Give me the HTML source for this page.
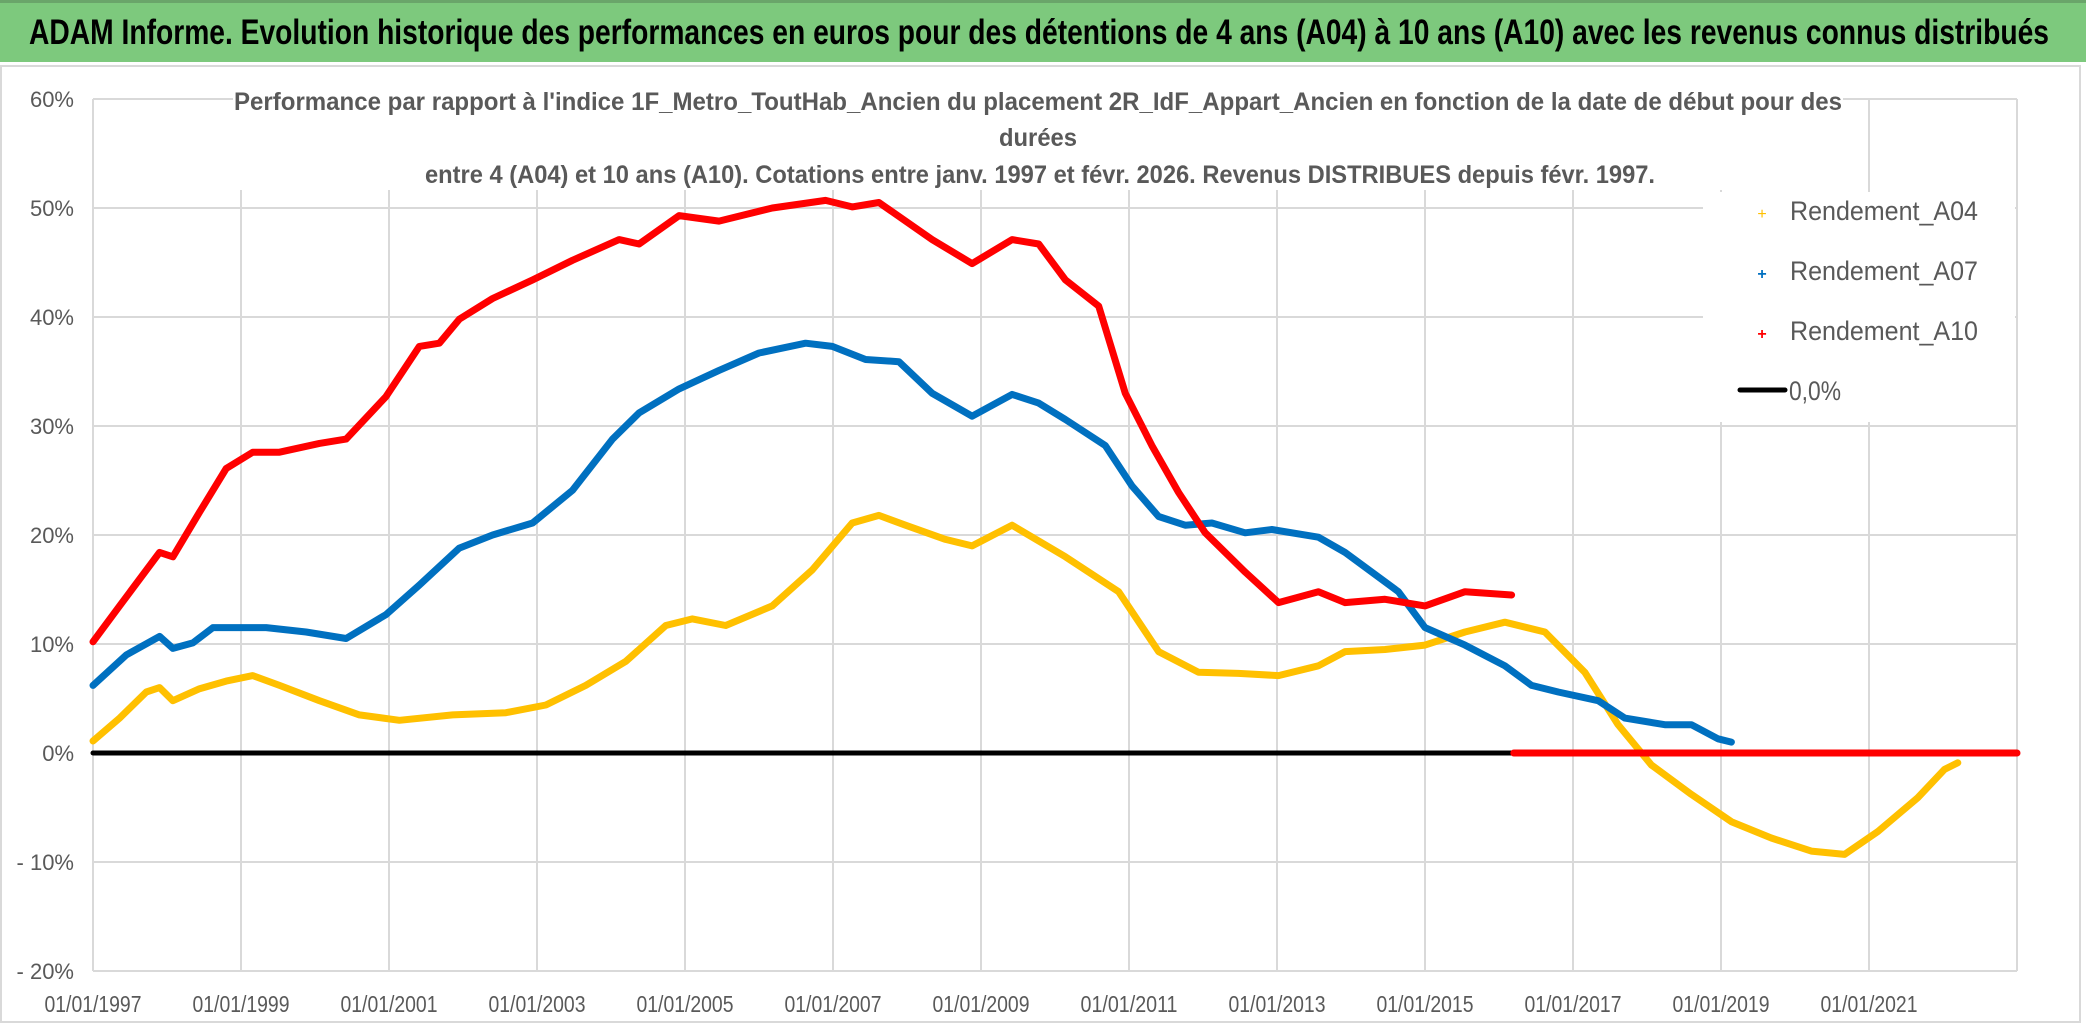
<!DOCTYPE html>
<html><head><meta charset="utf-8"><style>
html,body{margin:0;padding:0;background:#fff;}
svg{display:block;font-family:"Liberation Sans",sans-serif;}
</style></head><body>
<svg id="chart" width="2086" height="1031" viewBox="0 0 2086 1031" xmlns="http://www.w3.org/2000/svg">
<rect x="0" y="0" width="2086" height="1031" fill="#fff"/>
<rect x="0" y="0" width="2086" height="62" fill="#7dc97d"/>
<rect x="0" y="0" width="2086" height="3" fill="#6aa56a"/>
<text x="29" y="44" font-size="35" font-weight="bold" fill="#000" textLength="2020" lengthAdjust="spacingAndGlyphs">ADAM Informe. Evolution historique des performances en euros pour des détentions de 4 ans (A04) à 10 ans (A10) avec les revenus connus distribués</text>
<rect x="1" y="66" width="2079" height="956" fill="none" stroke="#d9d9d9" stroke-width="2"/>
<g id="grid"></g>
<g id="series"></g>
<rect x="233" y="80" width="1610" height="110" fill="#fff"/>
<g fill="#595959" font-weight="bold" font-size="25" text-anchor="middle">
<text x="1038" y="110" textLength="1608" lengthAdjust="spacingAndGlyphs">Performance par rapport à l'indice 1F_Metro_ToutHab_Ancien  du placement 2R_IdF_Appart_Ancien en fonction de la date de début pour des</text>
<text x="1038" y="146" textLength="78" lengthAdjust="spacingAndGlyphs">durées</text>
<text x="1040" y="183" textLength="1230" lengthAdjust="spacingAndGlyphs">entre 4 (A04) et 10 ans (A10). Cotations entre janv. 1997 et févr. 2026. Revenus DISTRIBUES depuis févr. 1997.</text>
</g>
<rect x="1703" y="192" width="312" height="230" fill="#fff"/>
<g font-size="27" fill="#595959">
<g><text x="1762" y="219" font-size="16" fill="#ffc000" text-anchor="middle">+</text><text x="1790" y="220" textLength="188" lengthAdjust="spacingAndGlyphs">Rendement_A04</text></g>
<g><text x="1762" y="279" font-size="16" fill="#0070c0" text-anchor="middle" font-weight="bold">+</text><text x="1790" y="280" textLength="188" lengthAdjust="spacingAndGlyphs">Rendement_A07</text></g>
<g><text x="1762" y="339" font-size="16" fill="#ff0000" text-anchor="middle" font-weight="bold">+</text><text x="1790" y="340" textLength="188" lengthAdjust="spacingAndGlyphs">Rendement_A10</text></g>
<g><line x1="1740" y1="390" x2="1785" y2="390" stroke="#000" stroke-width="5" stroke-linecap="round"/><text x="1789" y="400" textLength="52" lengthAdjust="spacingAndGlyphs">0,0%</text></g>
</g>
</svg>
<script>
const yTicks = [60, 50, 40, 30, 20, 10, 0, -10, -20];
const yTickLabels = ["60%", "50%", "40%", "30%", "20%", "10%", "0%", "- 10%", "- 20%"];
const xTickYears = [1997, 1999, 2001, 2003, 2005, 2007, 2009, 2011, 2013, 2015, 2017, 2019, 2021];
const xTickLabels = ["01/01/1997","01/01/1999","01/01/2001","01/01/2003","01/01/2005","01/01/2007","01/01/2009","01/01/2011","01/01/2013","01/01/2015","01/01/2017","01/01/2019","01/01/2021"];
const a10Years = [1997.0,1997.36,1997.9,1998.08,1998.44,1998.8,1999.16,1999.52,2000.06,2000.42,2000.96,2001.41,2001.68,2001.95,2002.4,2002.94,2003.48,2004.11,2004.38,2004.92,2005.46,2006.18,2006.9,2007.26,2007.62,2008.34,2008.88,2009.42,2009.78,2010.14,2010.59,2010.95,2011.31,2011.67,2012.03,2012.57,2013.02,2013.56,2013.92,2014.46,2015.0,2015.54,2016.17];
const a10Values = [10.2,13.5,18.4,18.0,22.1,26.1,27.6,27.6,28.4,28.8,32.7,37.3,37.6,39.8,41.7,43.4,45.2,47.1,46.7,49.3,48.8,50.0,50.7,50.1,50.5,47.1,44.9,47.1,46.7,43.4,41.0,33.0,28.2,23.9,20.2,16.6,13.8,14.8,13.8,14.1,13.5,14.8,14.5];
const a10ZeroYears = [2016.2, 2023.0];
const a10ZeroValues = [0, 0];
const a07Years = [1997.0,1997.45,1997.9,1998.08,1998.35,1998.62,1999.34,1999.88,2000.42,2000.96,2001.41,2001.95,2002.4,2002.94,2003.48,2004.02,2004.38,2004.92,2005.46,2006.0,2006.63,2006.99,2007.44,2007.89,2008.34,2008.88,2009.42,2009.78,2010.14,2010.68,2011.04,2011.4,2011.76,2012.12,2012.57,2012.93,2013.56,2013.92,2014.64,2015.0,2015.54,2016.08,2016.44,2016.8,2017.34,2017.7,2018.24,2018.6,2018.96,2019.14];
const a07Values = [6.2,9.0,10.7,9.6,10.1,11.5,11.5,11.1,10.5,12.7,15.4,18.8,20.0,21.1,24.1,28.8,31.2,33.4,35.1,36.7,37.6,37.3,36.1,35.9,33.0,30.9,32.9,32.1,30.6,28.2,24.5,21.7,20.9,21.1,20.2,20.5,19.8,18.4,14.8,11.5,9.9,8.0,6.2,5.6,4.8,3.2,2.6,2.6,1.3,1.0];
const a04Years = [1997.0,1997.36,1997.72,1997.9,1998.08,1998.44,1998.8,1999.16,1999.52,2000.06,2000.6,2001.14,2001.86,2002.58,2003.12,2003.66,2004.2,2004.74,2005.1,2005.55,2006.18,2006.72,2007.26,2007.62,2007.98,2008.52,2008.88,2009.42,2010.14,2010.86,2011.4,2011.94,2012.48,2013.02,2013.56,2013.92,2014.46,2015.0,2015.54,2016.08,2016.62,2017.16,2017.61,2018.06,2018.6,2019.14,2019.68,2020.22,2020.67,2021.12,2021.66,2022.02,2022.2];
const a04Values = [1.1,3.2,5.6,6.0,4.8,5.9,6.6,7.1,6.2,4.8,3.5,3.0,3.5,3.7,4.4,6.2,8.4,11.7,12.3,11.7,13.5,16.8,21.1,21.8,20.9,19.6,19.0,20.9,18.0,14.8,9.3,7.4,7.3,7.1,8.0,9.3,9.5,9.9,11.1,12.0,11.1,7.4,2.6,-1.1,-3.8,-6.3,-7.8,-9.0,-9.3,-7.2,-4.1,-1.5,-0.9];
const zeroLineYears = [1997.0, 2016.2];
const zeroLineValues = [0, 0];

const NS = "http://www.w3.org/2000/svg";
const X0 = 93, X1 = 2017, YEAR0 = 1997, YEAR1 = 2023;
const xs = y => X0 + (y - YEAR0) * (X1 - X0) / (YEAR1 - YEAR0);
const ys = v => 753 - v * 10.9;
function mk(tag, attrs, parent){const e=document.createElementNS(NS,tag);for(const k in attrs)e.setAttribute(k,attrs[k]);parent.appendChild(e);return e;}
const grid = document.getElementById('grid');
const ser = document.getElementById('series');
yTicks.forEach((t,i)=>{
  const gl = mk('line',{x1:X0,x2:X1,y1:ys(t),y2:ys(t),stroke:'#d9d9d9','stroke-width':2},grid);
  
  
  const tx = mk('text',{x:74,y:ys(t)+8,'text-anchor':'end','font-size':22,fill:'#595959'},grid);
  tx.textContent = yTickLabels[i];
  
  
});
xTickYears.forEach((yr,i)=>{
  const gl = mk('line',{x1:xs(yr),x2:xs(yr),y1:ys(60),y2:ys(-20),stroke:'#d9d9d9','stroke-width':2},grid);
  
  
  const tx = mk('text',{x:xs(yr),y:1012,'text-anchor':'middle','font-size':23,fill:'#595959',textLength:97,lengthAdjust:'spacingAndGlyphs'},grid);
  tx.textContent = xTickLabels[i];
  
  
});
mk('line',{x1:xs(2023),x2:xs(2023),y1:ys(60),y2:ys(-20),stroke:'#d9d9d9','stroke-width':2},grid);
function line(years, vals, color, w, name){
  const pts = years.map((y,i)=>xs(y).toFixed(1)+','+ys(vals[i]).toFixed(1)).join(' ');
  const p = mk('polyline',{points:pts,fill:'none',stroke:color,'stroke-width':w,'stroke-linejoin':'round','stroke-linecap':'round'},ser);
  
  
}
line(zeroLineYears, zeroLineValues, '#000', 5, 'zero-line');
line(a04Years, a04Values, '#ffc000', 7, 'series-a04');
line(a07Years, a07Values, '#0070c0', 7, 'series-a07');
line(a10Years, a10Values, '#ff0000', 7, 'series-a10');
line(a10ZeroYears, a10ZeroValues, '#ff0000', 7, 'series-a10-zero');
</script>
</body></html>
